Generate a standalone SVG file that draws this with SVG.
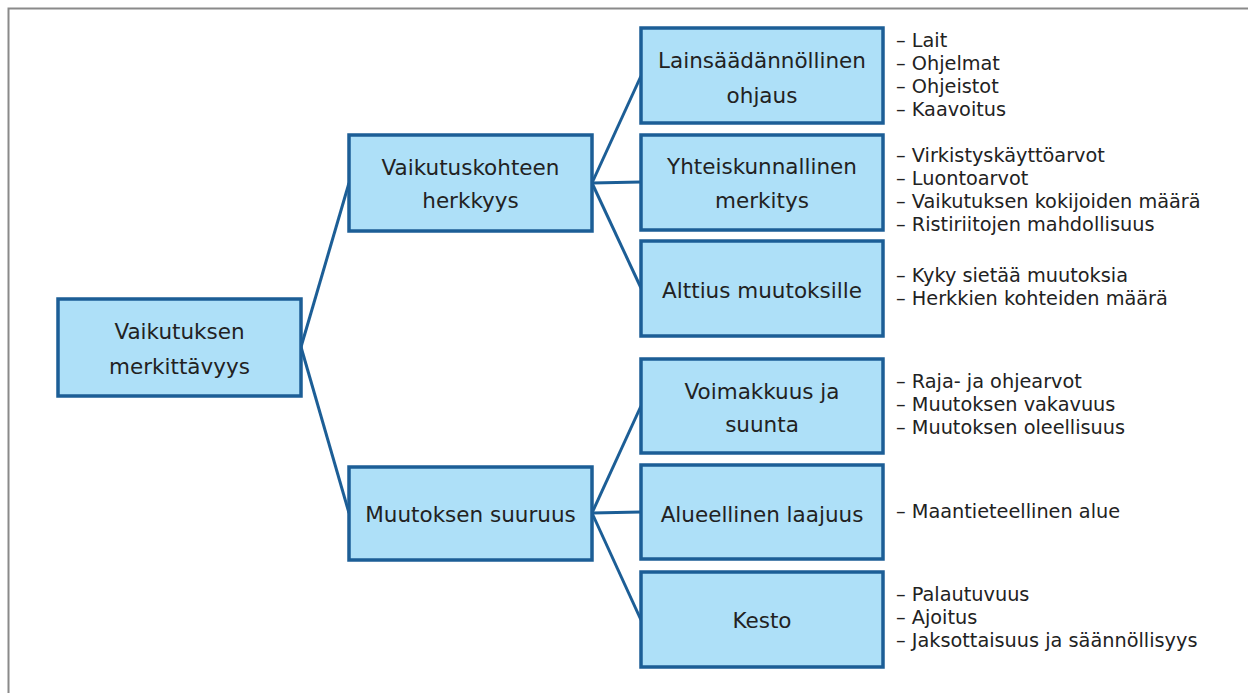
<svg xmlns="http://www.w3.org/2000/svg" width="1248" height="693" viewBox="0 0 1248 693">
<style>
.box{fill:#aee0f8;stroke:#1c5e96;stroke-width:3.5}
.bt{font-family:"DejaVu Sans","Open Sans",sans-serif;font-size:21.5px;fill:#222;text-anchor:middle}
.lt{font-family:"DejaVu Sans","Open Sans",sans-serif;font-size:19.3px;fill:#222}
.con line{stroke:#1c5e96;stroke-width:3}
</style>
<rect width="1248" height="693" fill="#fff"/>
<path d="M8.5 693V8.5H1248" fill="none" stroke="#8a8a8a" stroke-width="2"/>
<g class="con">
<line x1="301" y1="347" x2="349" y2="183"/>
<line x1="301" y1="347" x2="349" y2="513"/>
<line x1="592" y1="183" x2="641" y2="76"/>
<line x1="592" y1="183" x2="641" y2="182"/>
<line x1="592" y1="183" x2="641" y2="288"/>
<line x1="592" y1="513" x2="641" y2="406"/>
<line x1="592" y1="513" x2="641" y2="512"/>
<line x1="592" y1="513" x2="641" y2="620"/>
</g>
<g id="root"><rect class="box" x="58" y="299" width="243" height="97"/><text class="bt" x="179.5" y="339">Vaikutuksen</text><text class="bt" x="179.5" y="374">merkittävyys</text></g>
<g id="herkkyys"><rect class="box" x="349" y="135" width="243" height="96"/><text class="bt" x="470.5" y="175">Vaikutuskohteen</text><text class="bt" x="470.5" y="208">herkkyys</text></g>
<g id="suuruus"><rect class="box" x="349" y="467" width="243" height="93"/><text class="bt" x="470.5" y="522">Muutoksen suuruus</text></g>
<g id="lainsaadannollinen"><rect class="box" x="641" y="28" width="242" height="95"/><text class="bt" x="762" y="68">Lainsäädännöllinen</text><text class="bt" x="762" y="103">ohjaus</text></g>
<g id="yhteiskunnallinen"><rect class="box" x="641" y="135" width="242" height="95"/><text class="bt" x="762" y="174">Yhteiskunnallinen</text><text class="bt" x="762" y="208">merkitys</text></g>
<g id="alttius"><rect class="box" x="641" y="241" width="242" height="95"/><text class="bt" x="762" y="298">Alttius muutoksille</text></g>
<g id="voimakkuus"><rect class="box" x="641" y="359" width="242" height="94"/><text class="bt" x="762" y="399">Voimakkuus ja</text><text class="bt" x="762" y="432">suunta</text></g>
<g id="alueellinen"><rect class="box" x="641" y="465" width="242" height="94"/><text class="bt" x="762" y="522">Alueellinen laajuus</text></g>
<g id="kesto"><rect class="box" x="641" y="572" width="242" height="95"/><text class="bt" x="762" y="628">Kesto</text></g>
<g id="lists" class="lt">
<text x="896" y="47">– Lait</text>
<text x="896" y="70">– Ohjelmat</text>
<text x="896" y="93">– Ohjeistot</text>
<text x="896" y="116">– Kaavoitus</text>
<text x="896" y="162">– Virkistyskäyttöarvot</text>
<text x="896" y="185">– Luontoarvot</text>
<text x="896" y="208">– Vaikutuksen kokijoiden määrä</text>
<text x="896" y="231">– Ristiriitojen mahdollisuus</text>
<text x="896" y="282">– Kyky sietää muutoksia</text>
<text x="896" y="305">– Herkkien kohteiden määrä</text>
<text x="896" y="388">– Raja- ja ohjearvot</text>
<text x="896" y="411">– Muutoksen vakavuus</text>
<text x="896" y="434">– Muutoksen oleellisuus</text>
<text x="896" y="518">– Maantieteellinen alue</text>
<text x="896" y="601">– Palautuvuus</text>
<text x="896" y="624">– Ajoitus</text>
<text x="896" y="647">– Jaksottaisuus ja säännöllisyys</text>
</g>
</svg>
